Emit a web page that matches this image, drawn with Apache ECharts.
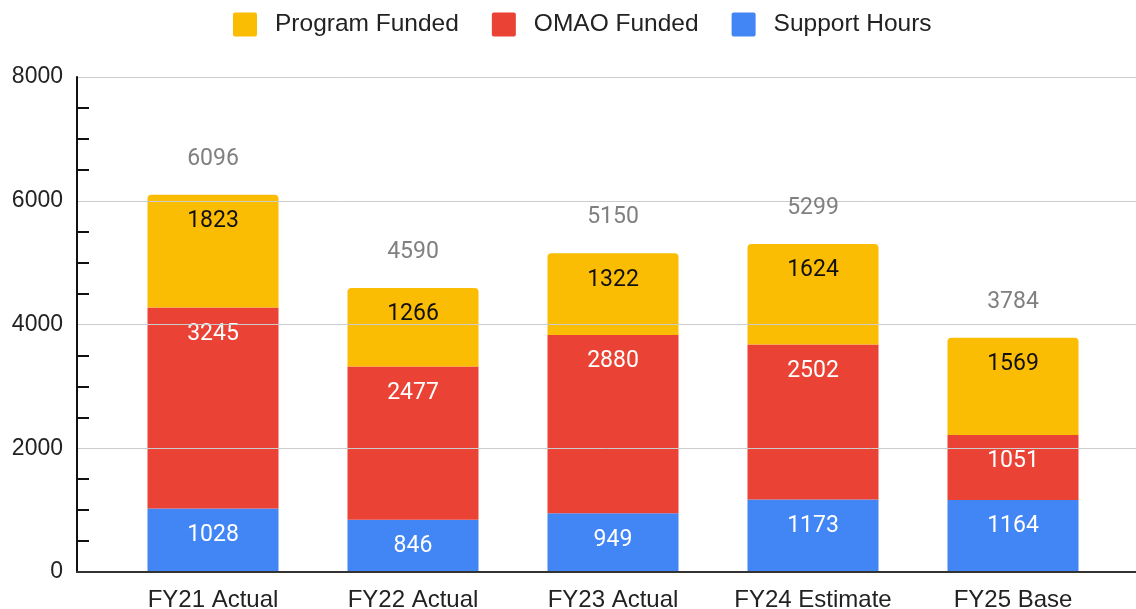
<!DOCTYPE html>
<html>
<head>
<meta charset="utf-8">
<script src="https://cdn.jsdelivr.net/npm/echarts@6/dist/echarts.min.js"></script>
<style>
  html, body { margin: 0; padding: 0; background: #fff; }
  #chart { width: 1136px; height: 609px; }
</style>
</head>
<body>
<div id="chart"></div>
<script>
// Fiscal-year hours, stacked by funding source
const categories = ['FY21 Actual', 'FY22 Actual', 'FY23 Actual', 'FY24 Estimate', 'FY25 Base'];
const supportHours = [1028, 846, 949, 1173, 1164];
const omaoFunded = [3245, 2477, 2880, 2502, 1051];
const programFunded = [1823, 1266, 1322, 1624, 1569];
const totals = [6096, 4590, 5150, 5299, 3784];

const axisFont = 'Liberation Sans, Arial, sans-serif';
const labelFont = 'Roboto, Arial, sans-serif';

// small rounded square for the legend keys
const keyIcon = 'path://M2,0 L22,0 Q24,0 24,2 L24,22 Q24,24 22,24 L2,24 Q0,24 0,22 L0,2 Q0,0 2,0 Z';

const chart = echarts.init(document.getElementById('chart'), null, { renderer: 'canvas' });

function segmentLabel(color) {
  return {
    show: true,
    position: 'insideTop',
    distance: 15,
    color: color,
    fontFamily: labelFont,
    fontSize: 23
  };
}

chart.setOption({
  animation: false,
  legend: {
    top: 7,
    left: 228,
    itemWidth: 24,
    itemHeight: 24,
    itemGap: 33,
    icon: keyIcon,
    textStyle: { fontFamily: axisFont, fontSize: 24.5, color: '#222', padding: [0, 0, 0, 13] },
    data: ['Program Funded', 'OMAO Funded', 'Support Hours']
  },
  grid: [
    // full-width frame: value axis, gridlines and baseline
    { left: 77, right: 0, top: 77, bottom: 37, containLabel: false, outerBoundsMode: 'none' },
    // bar area
    { left: 113, right: 23, top: 77, bottom: 37, containLabel: false, outerBoundsMode: 'none' }
  ],
  xAxis: [
    {
      gridIndex: 0,
      type: 'category',
      data: [''],
      axisLine: { show: true, lineStyle: { color: '#333', width: 2 } },
      axisTick: { show: false },
      axisLabel: { show: false },
      z: 5
    },
    {
      gridIndex: 1,
      type: 'category',
      data: categories,
      axisLine: { show: false },
      axisTick: { show: false },
      axisLabel: { interval: 0, margin: 16, fontFamily: axisFont, fontSize: 24, color: '#222' }
    }
  ],
  yAxis: [
    {
      gridIndex: 0,
      type: 'value',
      min: 0,
      max: 8000,
      interval: 2000,
      axisLine: { show: true, lineStyle: { color: '#111', width: 2 } },
      axisTick: { show: false, inside: true },
      minorTick: { show: true, splitNumber: 4, length: 12, lineStyle: { color: '#111', width: 2 } },
      splitLine: { show: true, lineStyle: { color: '#cccccc', width: 1 } },
      minorSplitLine: { show: false },
      axisLabel: {
        margin: 14,
        padding: [4, 0, 0, 0],
        fontFamily: axisFont,
        fontSize: 23,
        color: '#222',
        formatter: function (v) { return String(v); }
      },
      z: 5
    },
    {
      gridIndex: 1,
      type: 'value',
      min: 0,
      max: 8000,
      interval: 2000,
      show: false
    }
  ],
  series: [
    {
      name: 'Support Hours',
      type: 'bar',
      stack: 'hours',
      xAxisIndex: 1,
      yAxisIndex: 1,
      barWidth: 131,
      itemStyle: { color: '#4285F4' },
      label: segmentLabel('#ffffff'),
      data: supportHours
    },
    {
      name: 'OMAO Funded',
      type: 'bar',
      stack: 'hours',
      xAxisIndex: 1,
      yAxisIndex: 1,
      barWidth: 131,
      itemStyle: { color: '#EA4335' },
      label: segmentLabel('#ffffff'),
      data: omaoFunded
    },
    {
      name: 'Program Funded',
      type: 'bar',
      stack: 'hours',
      xAxisIndex: 1,
      yAxisIndex: 1,
      barWidth: 131,
      itemStyle: { color: '#FBBC04', borderRadius: [4, 4, 0, 0] },
      label: segmentLabel('#111111'),
      data: programFunded
    },
    {
      // stack totals shown above each column
      name: 'Total',
      type: 'line',
      xAxisIndex: 1,
      yAxisIndex: 1,
      symbol: 'circle',
      symbolSize: 1,
      showSymbol: true,
      itemStyle: { color: 'rgba(0,0,0,0)' },
      lineStyle: { opacity: 0 },
      silent: true,
      label: {
        show: true,
        position: 'top',
        distance: 24,
        color: '#808080',
        fontFamily: labelFont,
        fontSize: 23
      },
      data: totals,
      z: 10
    }
  ]
});
</script>
</body>
</html>
